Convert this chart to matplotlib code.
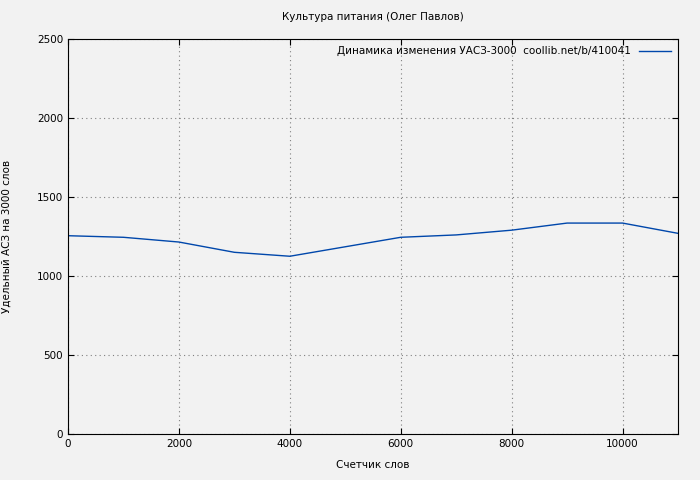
import matplotlib
matplotlib.use('Agg')
import matplotlib.pyplot as plt

# Data
words = [0, 1000, 2000, 3000, 4000, 5000, 6000, 7000, 8000, 9000, 10000, 11000]
uasz = [1255, 1245, 1215, 1150, 1125, 1185, 1245, 1260, 1290, 1335, 1335, 1270]
xticks = [0, 2000, 4000, 6000, 8000, 10000]
yticks = [0, 500, 1000, 1500, 2000, 2500]

plt.rcParams['font.family'] = ['DejaVu Sans']
plt.rcParams['font.size'] = 7.5

fig = plt.figure(figsize=(7, 4.8), dpi=100, facecolor='#f2f2f2')
ax = fig.add_axes([68/700, 1 - 434/480, 610/700, 395/480])
ax.set_facecolor('#f2f2f2')

ax.plot(words, uasz, color='#0047ab', linewidth=1,
        label='Динамика изменения УАСЗ-3000  coollib.net/b/410041')

ax.set_xlim(0, 11000)
ax.set_ylim(0, 2500)
ax.set_xticks(xticks)
ax.set_yticks(yticks)
ax.tick_params(direction='in', length=4, top=True, right=True)
ax.grid(True, linestyle=(0, (1, 3)), color='#808080', linewidth=0.8)

ax.set_title('Культура питания (Олег Павлов)', fontsize=7.5, pad=14)
ax.set_xlabel('Счетчик слов', labelpad=8)
ax.set_ylabel('Удельный АСЗ на 3000 слов', labelpad=18)

leg = ax.legend(loc='upper right', frameon=False, markerfirst=False,
                handlelength=3, borderaxespad=0.3, fontsize=7.5)

fig.savefig('out.png', dpi=100, facecolor=fig.get_facecolor())
